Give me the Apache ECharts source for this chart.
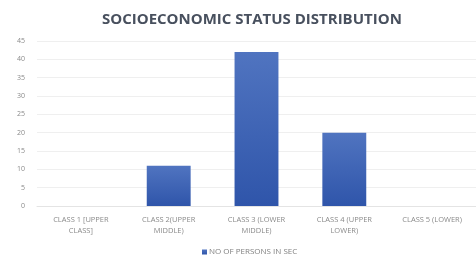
<!DOCTYPE html>
<html>
<head>
<meta charset="utf-8">
<script src="https://cdn.jsdelivr.net/npm/echarts@6/dist/echarts.min.js"></script>
<style>
  html, body { margin: 0; padding: 0; background: #fff; }
  #chart { width: 476px; height: 258px; }
</style>
</head>
<body>
<div id="chart"></div>
<script>
var categories = ['CLASS 1 [UPPER\nCLASS]', 'CLASS 2(UPPER\nMIDDLE)', 'CLASS 3 (LOWER\nMIDDLE)', 'CLASS 4 (UPPER\nLOWER)', 'CLASS 5 (LOWER)'];
var persons = [0, 11, 42, 20, 0];
var seriesName = 'NO OF PERSONS IN SEC';

var myChart = echarts.init(document.getElementById('chart'));
var option = {
    animation: false,
    title: {
        text: 'SOCIOECONOMIC STATUS DISTRIBUTION',
        left: 97,
        top: 7,
        textStyle: { fontFamily: 'Open Sans', fontSize: 15, fontWeight: 'bold', color: '#48505e' }
    },
    legend: {
        data: [seriesName],
        bottom: 2,
        left: 202,
        padding: 0,
        itemWidth: 5,
        itemHeight: 5,
        icon: 'rect',
        textStyle: { fontFamily: 'Open Sans', fontSize: 8, color: '#808080', padding: [0, 0, 0, -3] }
    },
    grid: { left: 37, right: -2, top: 41, bottom: 52 },
    xAxis: {
        type: 'category',
        data: categories,
        axisLine: { lineStyle: { color: '#e4e4e4' } },
        axisTick: { show: false },
        axisLabel: { fontFamily: 'Open Sans', fontSize: 7.5, color: '#8a8a8a', lineHeight: 11, margin: 8, interval: 0 }
    },
    yAxis: {
        type: 'value',
        min: 0,
        max: 45,
        interval: 5,
        axisLine: { show: false },
        axisTick: { show: false },
        splitLine: { lineStyle: { color: '#efefef' } },
        axisLabel: { fontFamily: 'Open Sans', fontSize: 7, color: '#8a8a8a', margin: 12 }
    },
    series: [{
        name: seriesName,
        type: 'bar',
        data: persons,
        barCategoryGap: '50%',
        itemStyle: {
            color: new echarts.graphic.LinearGradient(0, 0, 0, 1, [
                { offset: 0, color: '#5074c0' },
                { offset: 1, color: '#2f55aa' }
            ])
        }
    }]
};
myChart.setOption(option);
</script>
</body>
</html>
